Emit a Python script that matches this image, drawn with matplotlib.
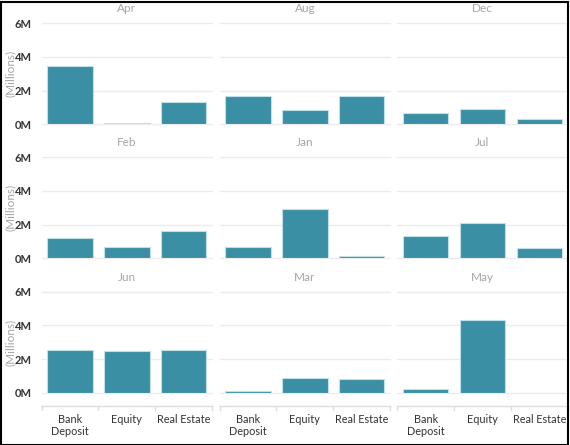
import numpy as np
import matplotlib.pyplot as plt
from matplotlib.patches import Rectangle

plt.rcParams['font.family'] = ['Lato', 'DejaVu Sans']

# data (millions)
months = ['Apr', 'Aug', 'Dec', 'Feb', 'Jan', 'Jul', 'Jun', 'Mar', 'May']
categories = ['Bank\nDeposit', 'Equity', 'Real Estate']
bank_deposit = [3.49, 1.71, 0.70, 1.23, 0.70, 1.31, 2.52, 0.10, 0.20]
equity = [0.10, 0.83, 0.91, 0.66, 2.90, 2.09, 2.46, 0.85, 4.30]
real_estate = [1.35, 1.69, 0.30, 1.61, 0.12, 0.60, 2.52, 0.81, 0.0]
yticks = [0, 2, 4, 6]
ytick_labels = ['0M', '2M', '4M', '6M']

BAR = '#3a8fa5'
EDGE = '#bfe0e8'
GRID = '#ececec'
W, H = 570, 445

fig = plt.figure(figsize=(W / 100, H / 100), dpi=100)
fig.patch.set_facecolor('white')

col_left = [41.7, 219.7, 397.3]
col_w = 170.3
row_top = [23.3, 157.3, 291.7]
row_h = 101.0

x = np.arange(len(categories))
for i, m in enumerate(months):
    r, c = divmod(i, 3)
    ax = fig.add_axes([col_left[c] / W, 1 - (row_top[r] + row_h) / H, col_w / W, row_h / H])
    vals = [bank_deposit[i], equity[i], real_estate[i]]
    for y in yticks:
        ax.axhline(y, color=GRID, lw=1.0, zorder=0, clip_on=False)
    ax.bar(x, vals, width=0.8, color=BAR, edgecolor=EDGE, linewidth=0.8, zorder=2)
    ax.set_xlim(-0.5, 2.5)
    ax.set_ylim(0, 6)
    ax.set_xticks([])
    for s in ax.spines.values():
        s.set_visible(False)
    ax.set_title(m, fontsize=8.5, color='#a6a6a6', pad=8)
    if c == 0:
        ax.set_yticks(yticks)
        ax.set_yticklabels(ytick_labels, fontsize=8, color='#333333', fontweight='bold')
        ax.tick_params(axis='y', length=0, pad=7)
        ax.set_ylabel('(Millions)', fontsize=8.5, color='#a6a6a6', va='center')
        ax.yaxis.set_label_coords(-0.186, 0.5)
    else:
        ax.set_yticks([])

# category header at the bottom
for c in range(3):
    hx = fig.add_axes([col_left[c] / W, 1 - 445 / H, col_w / W, 40 / H])
    hx.set_xlim(-0.5, 2.5)
    hx.set_ylim(0, 40)
    hx.axis('off')
    hx.plot([-0.5, 2.5], [39.5, 39.5], color='#dddddd', lw=1.0, clip_on=False)
    for b in [-0.5, 0.5, 1.5, 2.5]:
        hx.plot([b, b], [39.5, 35.5], color='#dddddd', lw=1.0, clip_on=False)
    for k, cat in enumerate(categories):
        hx.text(k, 31, cat, ha='center', va='top', fontsize=7.8, color='#333333',
                linespacing=1.15)

# outer border
fig.add_artist(Rectangle((0.5 / W, 0.5 / H), 1 - 2.5 / W, 1 - 2.0 / H,
                         transform=fig.transFigure, fill=False, edgecolor='black', lw=1.5))

fig.savefig('out.png', dpi=100)
